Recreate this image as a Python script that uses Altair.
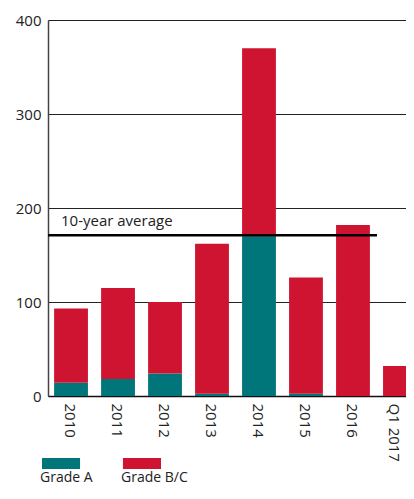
import altair as alt
import pandas as pd

years = ["2010", "2011", "2012", "2013", "2014", "2015", "2016", "Q1 2017"]
grade_a = [14, 18, 24, 2.5, 170, 2.5, 0, 0]
grade_bc = [79, 97, 76, 159.5, 200, 123.5, 182, 32]
series = ["Grade A", "Grade B/C"]
colors = ["#00757A", "#CF1432"]
avg_value = 171
avg_label = "10-year average"
y_ticks = [0, 100, 200, 300, 400]

rows = []
for i, yr in enumerate(years):
    rows.append({"year": yr, "grade": series[0], "value": grade_a[i], "ord": 0})
    rows.append({"year": yr, "grade": series[1], "value": grade_bc[i], "ord": 1})
df = pd.DataFrame(rows)
legend_df = pd.DataFrame({"grade": series})
avg_df = pd.DataFrame({"avg": [avg_value], "label": [avg_label]})

FONT = "Open Sans"

color_scale = alt.Scale(domain=series, range=colors)

label_offset = {"condition": {"test": "datum.value === 'Q1 2017'", "value": -6}, "value": -1}

bars = alt.Chart(df).mark_bar(clip=True).encode(
    x=alt.X("year:N", sort=years,
            scale=alt.Scale(range=[0, 375], paddingInner=0.28, paddingOuter=0.13),
            axis=alt.Axis(title=None, labelAngle=90, labelAlign="left", labelBaseline="middle",
                          labelPadding=7, labelOffset=label_offset, ticks=False, grid=False,
                          domainColor="#111", domainWidth=1.5, labelFontSize=15,
                          labelColor="#222", labelFont=FONT)),
    y=alt.Y("value:Q", stack="zero",
            scale=alt.Scale(domain=[0, 400], nice=False),
            axis=alt.Axis(title=None, values=y_ticks, ticks=False, labelPadding=7,
                          gridColor="#222", gridWidth=1, domainColor="#444", domainWidth=1.5,
                          labelFontSize=15, labelColor="#222", labelFont=FONT)),
    color=alt.Color("grade:N", scale=color_scale, legend=None),
    order=alt.Order("ord:Q", sort="ascending"),
)

avg_rule = alt.Chart(avg_df).mark_rule(color="#000", strokeWidth=2.5).encode(
    y=alt.Y("avg:Q"),
    x=alt.value(0),
    x2=alt.value(329),
)

avg_text = alt.Chart(avg_df).mark_text(
    align="left", baseline="alphabetic", dx=0, dy=-9, fontSize=15, font=FONT, color="#222"
).encode(
    y=alt.Y("avg:Q"),
    x=alt.value(13),
    text="label:N",
)

legend_scale = alt.Scale(type="band", domain=series, range=[-6, 113],
                         paddingInner=0.53, paddingOuter=0)

legend_rect = alt.Chart(legend_df).mark_rect().encode(
    x=alt.X("grade:N", scale=legend_scale, axis=None),
    y=alt.value(438),
    y2=alt.value(449),
    color=alt.Color("grade:N", scale=color_scale, legend=None),
)

legend_text = alt.Chart(legend_df).mark_text(
    align="left", baseline="alphabetic", dx=-21, fontSize=14, font=FONT, color="#222"
).encode(
    x=alt.X("grade:N", scale=legend_scale, axis=None),
    y=alt.value(462),
    text="grade:N",
)

chart = alt.layer(bars, avg_rule, avg_text, legend_rect, legend_text).resolve_scale(
    x="independent"
).properties(
    width=358,
    height=376,
    padding={"left": 40, "top": 12, "right": 0, "bottom": 91},
    autosize=alt.AutoSizeParams(type="none"),
).configure_view(stroke=None).configure(font=FONT)

chart.save("out.html", embed_options={"renderer": "svg", "actions": False})
